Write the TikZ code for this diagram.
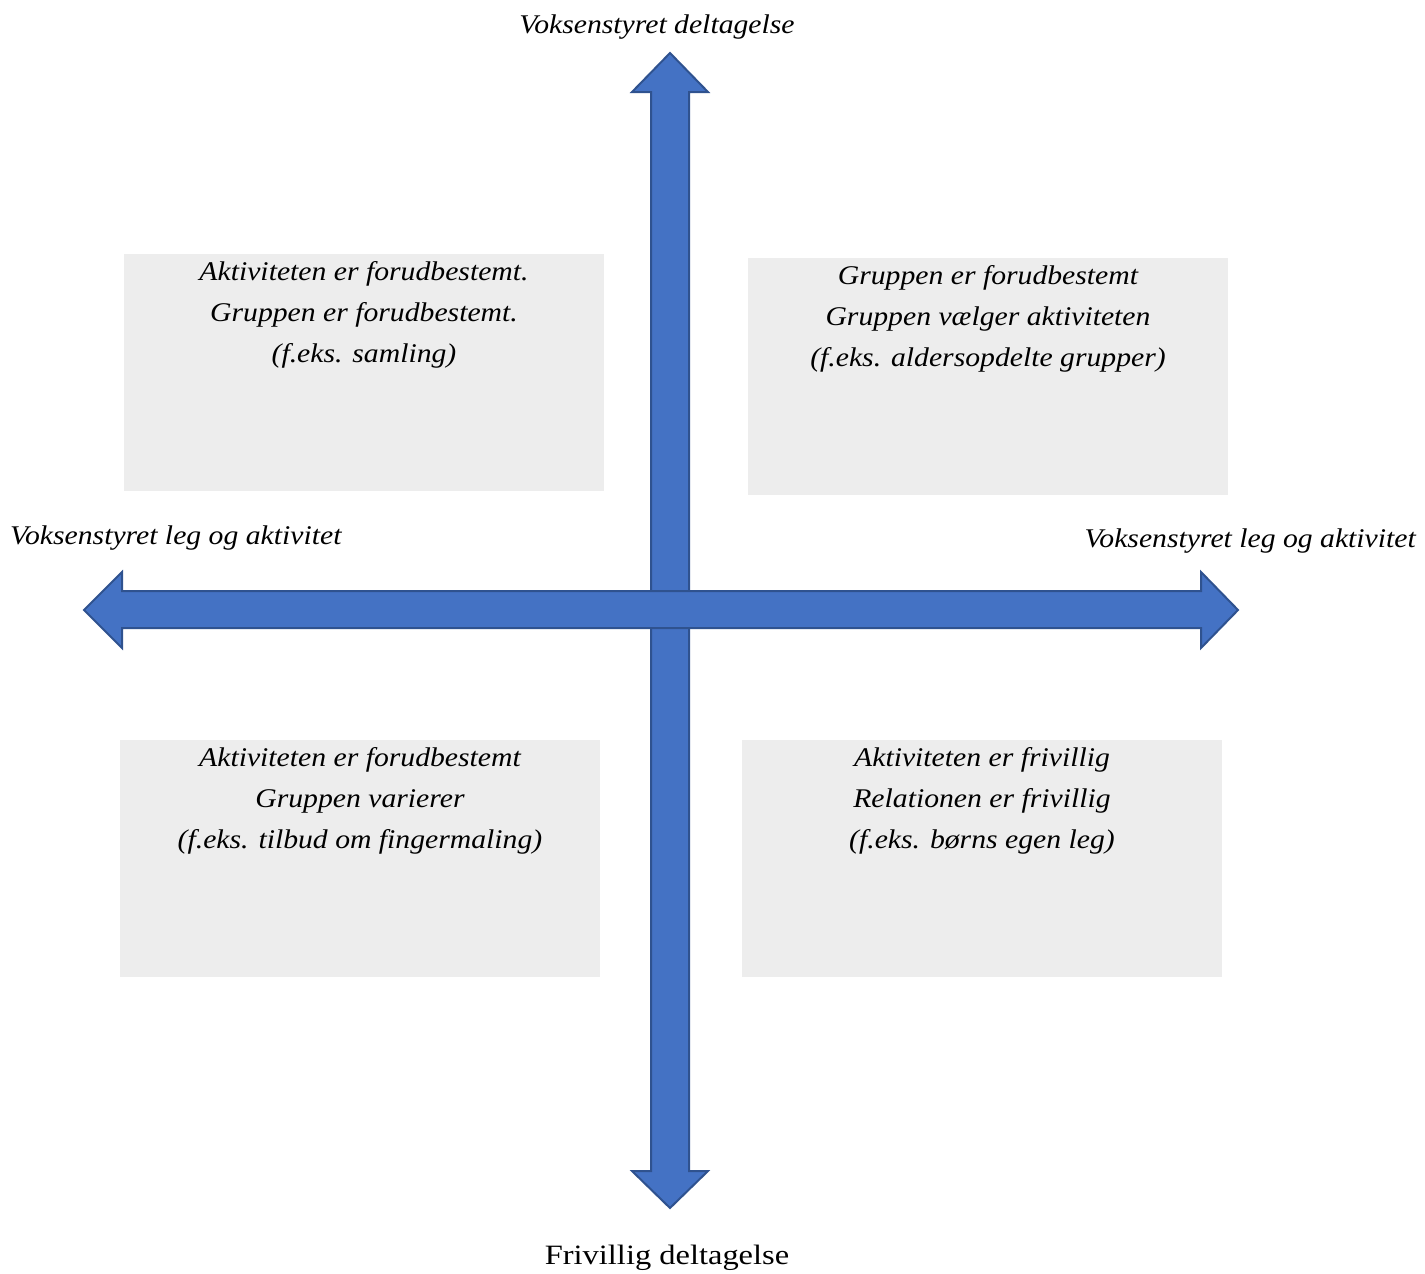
\documentclass[tikz,border=0pt]{standalone}
\usepackage{fontspec}
\setmainfont[FakeStretch=1.1]{Liberation Serif}
\newfontfamily\uprightwide[FakeStretch=1.16]{Liberation Serif}
\definecolor{arrowfill}{HTML}{4472C4}
\definecolor{arrowline}{HTML}{2F528F}
\definecolor{boxgray}{HTML}{EDEDED}
\begin{document}
\begin{tikzpicture}[x=1pt,y=-1pt,
  bigarrow/.style={fill=arrowfill,draw=arrowline,line width=2pt,line join=miter},
  quadbox/.style={fill=boxgray,draw=none,minimum width=480pt,minimum height=237pt,inner sep=0pt},
  quadtext/.style={align=center,font=\fontsize{27}{41}\selectfont\itshape,anchor=north,inner sep=0pt},
  axislabel/.style={font=\fontsize{27}{30}\selectfont\itshape,inner sep=0pt}]
\useasboundingbox (0,0) rectangle (1425,1274);
% quadrant boxes
\node[quadbox] (tl) at (364,372.5) {};
\node[quadbox] (tr) at (988,376.5) {};
\node[quadbox] (bl) at (360,858.5) {};
\node[quadbox] (br) at (982,858.5) {};
% arrows
\draw[bigarrow] (651,92) -- (632,92) -- (670,53) -- (708,92) -- (689,92) -- (689,1171) -- (708,1171) -- (670,1208) -- (632,1171) -- (651,1171) -- cycle;
\draw[bigarrow] (122,591) -- (122,572) -- (84,610) -- (122,648) -- (122,628) -- (1201,628) -- (1201,648) -- (1238,610) -- (1201,572) -- (1201,591) -- cycle;
% quadrant texts
\node[quadtext] (tltext) at (364,261) {Aktiviteten er forudbestemt.\\Gruppen er forudbestemt.\\(f.eks. samling)};
\node[quadtext] (trtext) at (988,265) {Gruppen er forudbestemt\\Gruppen vælger aktiviteten\\(f.eks. aldersopdelte grupper)};
\node[quadtext] (bltext) at (360,747) {Aktiviteten er forudbestemt\\Gruppen varierer\\(f.eks. tilbud om fingermaling)};
\node[quadtext] (brtext) at (982,747) {Aktiviteten er frivillig\\Relationen er frivillig\\(f.eks. børns egen leg)};
% axis labels
\node[axislabel] (top) at (657,27) {Voksenstyret deltagelse};
\node[axislabel,anchor=west] (left) at (10,538) {Voksenstyret leg og aktivitet};
\node[axislabel,anchor=east] (right) at (1416,541) {Voksenstyret leg og aktivitet};
\node[axislabel,font=\fontsize{28}{30}\selectfont\uprightwide] (bottom) at (667,1258) {Frivillig deltagelse};
\end{tikzpicture}
\end{document}
